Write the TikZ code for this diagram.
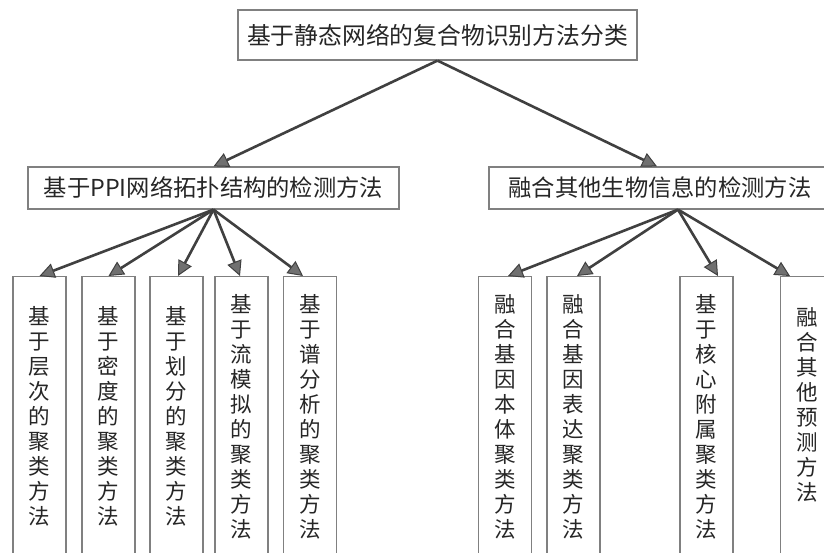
\documentclass[tikz,border=0pt]{standalone}
\usepackage{fontspec}
\setmainfont{Noto Sans CJK SC}
\usetikzlibrary{arrows.meta}
\definecolor{boxline}{HTML}{808080}
\definecolor{linkline}{HTML}{404040}
\definecolor{tipfill}{HTML}{707070}
\tikzset{
  topbox/.style={draw=boxline, line width=1.2pt, minimum width=399pt, minimum height=50pt,
    inner sep=0pt, text=black!85, font=\fontsize{23.8}{24}\selectfont},
  midbox/.style={draw=boxline, line width=1.2pt, minimum height=42pt,
    inner sep=0pt, text=black!85, font=\fontsize{23.3}{24}\selectfont},
  leafbox/.style={draw=boxline, line width=1.2pt, minimum width=53pt, minimum height=280pt,
    inner sep=0pt, anchor=north, align=center, text=black!85, font=\fontsize{21.5}{25}\selectfont},
  link/.style={draw=linkline, line width=2.6pt,
    -{Triangle[length=15pt,width=15pt,fill=tipfill,line width=1pt]}}
}
\begin{document}
\begin{tikzpicture}[x=1pt,y=-1pt]
   \useasboundingbox (0,0) rectangle (824,553);
   \fill[white] (0,0) rectangle (824,553);
   \clip (0,0) rectangle (824,553);

   % 第一层
   \node[topbox] (root) at (437.5,35) {基于静态网络的复合物识别方法分类};

   % 第二层
   \node[midbox, minimum width=371pt] (ppi) at (213.5,188) {基于PPI网络拓扑结构的检测方法};
   \node[midbox, minimum width=342pt] (bio) at (660,188) {融合其他生物信息的检测方法};

   % 第三层（左）
   \node[leafbox] (l1) at (39.5,276) {基\\于\\层\\次\\的\\聚\\类\\方\\法};
   \node[leafbox] (l2) at (108.5,276) {基\\于\\密\\度\\的\\聚\\类\\方\\法};
   \node[leafbox] (l3) at (176.5,276) {基\\于\\划\\分\\的\\聚\\类\\方\\法};
   \node[leafbox] (l4) at (241.5,276) {基\\于\\流\\模\\拟\\的\\聚\\类\\方\\法};
   \node[leafbox] (l5) at (310,276) {基\\于\\谱\\分\\析\\的\\聚\\类\\方\\法};

   % 第三层（右）
   \node[leafbox] (r1) at (505,276) {融\\合\\基\\因\\本\\体\\聚\\类\\方\\法};
   \node[leafbox] (r2) at (573.5,276) {融\\合\\基\\因\\表\\达\\聚\\类\\方\\法};
   \node[leafbox] (r3) at (706.5,276) {基\\于\\核\\心\\附\\属\\聚\\类\\方\\法};
   \node[leafbox] (r4) at (807,276) {融\\合\\其\\他\\预\\测\\方\\法\\~};

   % 箭头
   \draw[link] (root.south) -- (ppi.north);
   \draw[link] (root.south) -- ([xshift=-3pt]bio.north);

   \draw[link] (ppi.south) -- (l1.north);
   \draw[link] (ppi.south) -- (l2.north);
   \draw[link] (ppi.south) -- ([xshift=1.5pt]l3.north);
   \draw[link] (ppi.south) -- ([xshift=-1.5pt]l4.north);
   \draw[link] (ppi.south) -- ([xshift=-7pt]l5.north);

   \draw[link] ([xshift=18pt]bio.south) -- ([xshift=3pt]r1.north);
   \draw[link] ([xshift=18pt]bio.south) -- ([xshift=3.5pt]r2.north);
   \draw[link] ([xshift=18pt]bio.south) -- ([xshift=11.5pt]r3.north);
   \draw[link] ([xshift=18pt]bio.south) -- ([xshift=-17pt]r4.north);

\end{tikzpicture}
\end{document}
